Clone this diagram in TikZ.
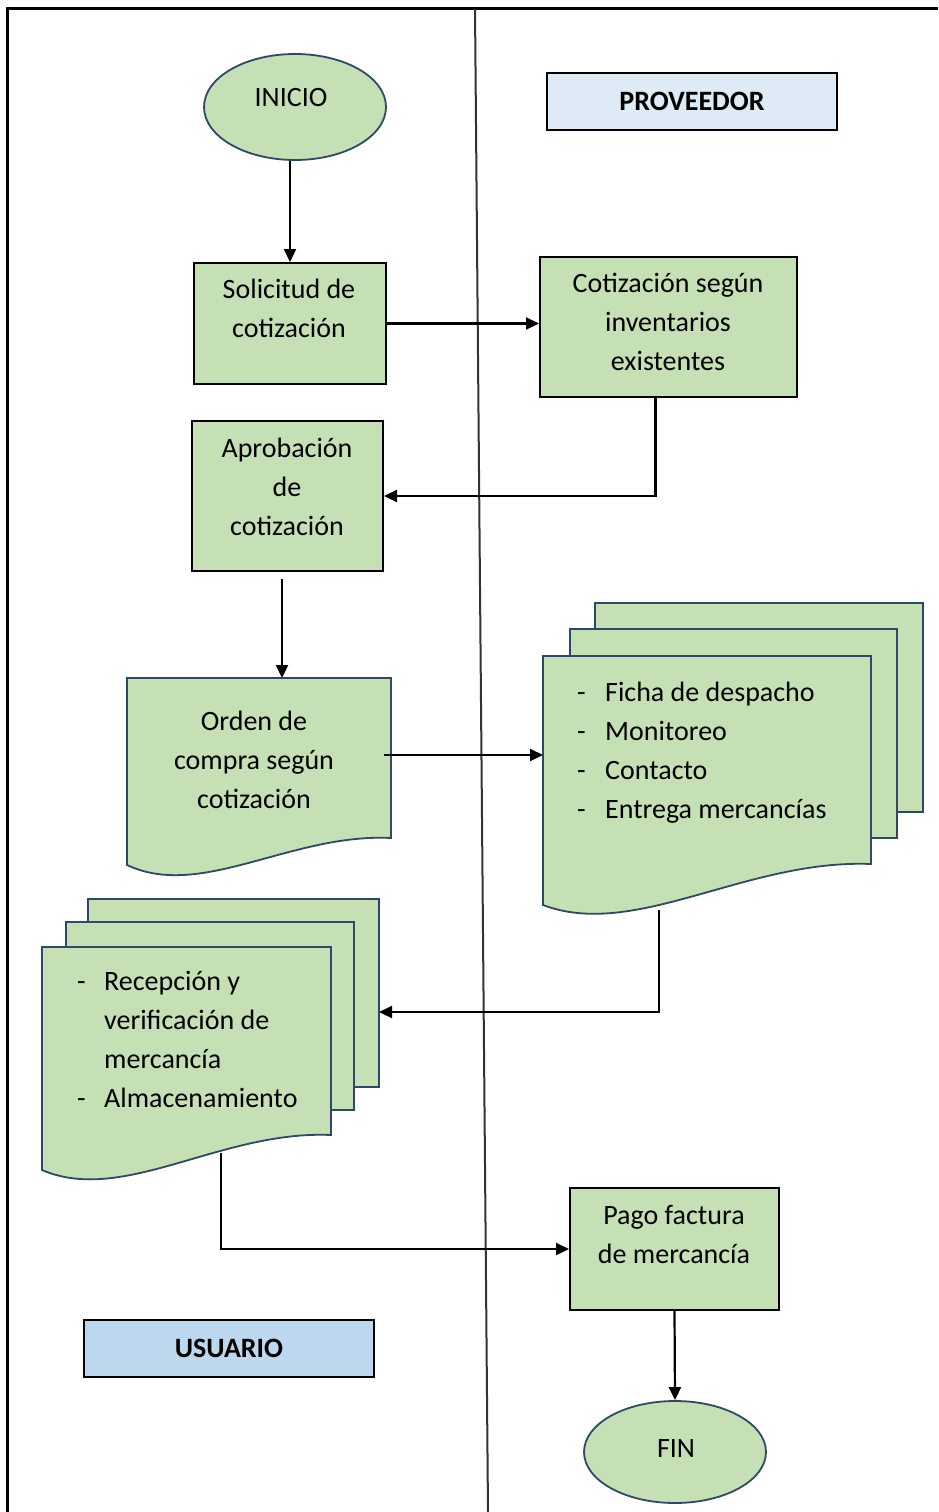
\documentclass[tikz,border=0pt]{standalone}
\usepackage{fontspec}
\setmainfont{Carlito}
\usetikzlibrary{arrows.meta,shapes.geometric,calc}
\definecolor{gfill}{HTML}{C5E0B4}
\definecolor{docline}{HTML}{2F4868}
\definecolor{lblue}{HTML}{DEEBF7}
\definecolor{mblue}{HTML}{BDD7EE}
\tikzset{
 box/.style={draw=black, line width=2pt, fill=gfill, inner sep=0pt, rectangle},
 term/.style={ellipse, draw=docline, line width=1.8pt, fill=gfill, inner sep=0pt},
 doc/.style={draw=docline, line width=1.8pt, fill=gfill, line join=miter},
 lane/.style={draw=black, line width=2pt, inner sep=0pt, font=\fontsize{28}{34}\selectfont\bfseries},
 txt/.style={inner sep=0pt, align=center, font=\fontsize{28}{39}\selectfont, execute at begin node=\strut, execute at end node=\strut},
 ltxt/.style={txt, align=left},
 arr/.style={line width=2.2pt, -{Triangle[length=13pt,width=12pt]}},
}
\begin{document}
\begin{tikzpicture}[x=1pt,y=-1pt]
\useasboundingbox (0,0) rectangle (938,1512);
% frame and divider
\draw[line width=3pt, line join=miter] (7,1512) -- (7,9) -- (938,9);
\draw[line width=2pt, black!80] (475,9) -- (488,1512);

% terminals and lane labels
\node[term, minimum width=182pt, minimum height=106pt] (inicio) at (295,107) {};
\node[txt] (tinicio) at (291,99) {INICIO};
\node[lane, fill=lblue, minimum width=290pt, minimum height=57pt] (prov) at (692,101.5) {PROVEEDOR};

% process boxes
\node[box, minimum width=192pt, minimum height=121pt] (sol) at (290,323.5) {};
\node[txt] (tsol) at (289,314) {Solicitud de\\cotización};
\node[box, minimum width=257pt, minimum height=140pt] (cot) at (668.5,327) {};
\node[txt] (tcot) at (668,328) {Cotización según\\inventarios\\existentes};
\node[box, minimum width=191pt, minimum height=150pt] (apr) at (287.5,496) {};
\node[txt] (tapr) at (287,492.5) {Aprobación\\de\\cotización};

% Orden de compra document
\draw[doc] (127,678) -- (391,678) -- (391,838) .. controls (291,833) and (201,900) .. (127,865) -- cycle;
\node[txt] (tord) at (254,766) {Orden de\\compra según\\cotización};
\coordinate (ordN) at (282,678);
\coordinate (ordE) at (384,755);

% right multi-document
\draw[doc] (595,603) rectangle (923,812);
\draw[doc] (570,629) rectangle (897,838);
\draw[doc] (543,656) -- (871,656) -- (871,864) .. controls (746,859) and (635,940) .. (543,905) -- cycle;
\node[ltxt, anchor=west] (trd) at (577,756.5) {\makebox[28pt][l]{-}Ficha de despacho\\\makebox[28pt][l]{-}Monitoreo\\\makebox[28pt][l]{-}Contacto\\\makebox[28pt][l]{-}Entrega mercancías};
\coordinate (rdW) at (543,755);
\coordinate (rdS) at (659,910);

% left multi-document
\draw[doc] (88,899) rectangle (379,1087);
\draw[doc] (66,922) rectangle (354,1110);
\draw[doc] (42,947) -- (331,947) -- (331,1135) .. controls (221,1130) and (123,1205) .. (42,1170) -- cycle;
\node[ltxt, anchor=west] (tld) at (77,1045) {\makebox[27pt][l]{-}Recepción y\\\hspace*{27pt}verificación de\\\hspace*{27pt}mercancía\\\makebox[27pt][l]{-}Almacenamiento};
\coordinate (ldE) at (379,1012);
\coordinate (ldS) at (221,1153);

% pago, usuario, fin
\node[box, minimum width=209pt, minimum height=122pt] (pago) at (674.5,1249) {};
\node[txt] (tpago) at (674,1240) {Pago factura\\de mercancía};
\node[lane, fill=mblue, minimum width=290pt, minimum height=57pt] (usu) at (229,1348.5) {USUARIO};
\node[term, minimum width=182pt, minimum height=102pt] (fin) at (675,1452) {};
\node[txt] (tfin) at (676,1450) {FIN};

% connectors
\draw[arr] (inicio.south -| sol.north) -- (sol.north);
\draw[arr] (sol.east) -- (sol.east -| cot.west);
\draw[arr] ([xshift=-13pt]cot.south) |- (apr.east);
\draw[arr] ([yshift=-7pt]apr.south -| ordN) -- (ordN);
\draw[arr] (ordE) -- (rdW);
\draw[arr] (rdS) |- (ldE);
\draw[arr] (ldS) |- (pago.west);
\draw[arr] (pago.south) -- (fin.north);
\end{tikzpicture}
\end{document}
